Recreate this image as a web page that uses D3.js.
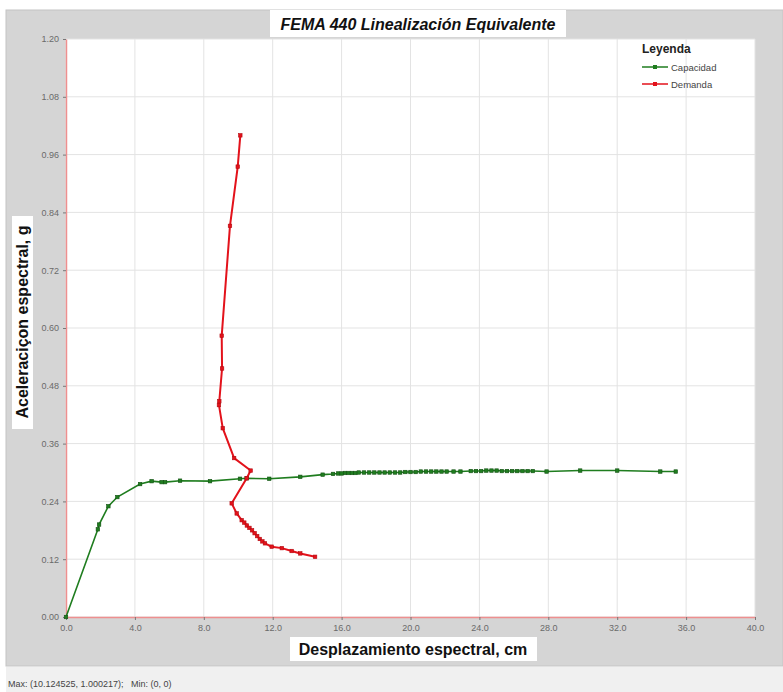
<!DOCTYPE html>
<html lang="es">

<head>
    <meta charset="UTF-8">
    <title>FEMA 440</title>
    <style>
        body {
            margin: 0;
            font-family: Arial, 'Liberation Sans', Helvetica, sans-serif;
            background-color: #ffffff;
        }

        .grid line {
            stroke: #e3e3e3;
        }

        .axisY text,
        .axisX text {
            fill: #6a6a6a;
            font-size: 9px;
        }

        .axisY .domain,
        .axisX .domain {
            stroke: #ee8f8f;
            stroke-width: 1.5;
        }

        .axisY .tick line,
        .axisX .tick line {
            stroke: #777;
        }
    </style>
</head>

<body>
    <div id='chart'></div>
</body>

</html>
<script src="https://cdnjs.cloudflare.com/ajax/libs/d3/7.8.5/d3.min.js"></script>
<script>
    // datos: curva de capacidad
    var capX = [0, 1.85, 1.92, 2.46, 2.98, 4.30, 4.97, 5.55, 5.75, 6.62, 8.36, 10.10, 10.49, 11.80, 13.60, 14.90,
        15.5, 15.8, 16.0, 16.2, 16.4, 16.6, 16.8, 17.0, 17.3, 17.6, 17.9, 18.2, 18.5, 18.8, 19.1, 19.4, 19.7,
        20.0, 20.3, 20.6, 20.9, 21.2, 21.5, 21.8, 22.1, 22.5, 22.9, 23.5, 23.8, 24.1, 24.4, 24.7, 25.0, 25.3,
        25.6, 25.9, 26.2, 26.5, 26.8, 27.1, 27.9, 29.85, 32.0, 34.5, 35.4];
    var capY = [0, 0.182, 0.192, 0.230, 0.249, 0.276, 0.282, 0.280, 0.280, 0.283, 0.282, 0.287, 0.288, 0.287, 0.291, 0.2955,
        0.297, 0.298, 0.298, 0.299, 0.299, 0.299, 0.299, 0.300, 0.300, 0.300, 0.300, 0.300, 0.300, 0.300, 0.300, 0.300, 0.301,
        0.301, 0.301, 0.302, 0.302, 0.302, 0.302, 0.302, 0.302, 0.302, 0.302, 0.303, 0.303, 0.303, 0.304, 0.304, 0.304, 0.303,
        0.303, 0.303, 0.303, 0.303, 0.303, 0.303, 0.302, 0.304, 0.304, 0.302, 0.302];

    // datos: curva de demanda
    var demX = [10.12, 9.97, 9.52, 9.04, 9.06, 8.90, 8.88, 9.10, 9.76, 10.72, 10.49, 9.62, 9.91, 10.20, 10.35, 10.50,
        10.65, 10.80, 10.95, 11.10, 11.25, 11.40, 11.55, 11.94, 12.53, 13.10, 13.60, 14.46];
    var demY = [1.000, 0.935, 0.812, 0.584, 0.516, 0.448, 0.440, 0.392, 0.330, 0.304, 0.288, 0.236, 0.215, 0.201, 0.196, 0.190,
        0.185, 0.180, 0.174, 0.168, 0.162, 0.157, 0.153, 0.146, 0.143, 0.137, 0.132, 0.125];

    // ticks
    var xTicks = [0, 4, 8, 12, 16, 20, 24, 28, 32, 36, 40];
    var yTicks = [0, 0.12, 0.24, 0.36, 0.48, 0.60, 0.72, 0.84, 0.96, 1.08, 1.20];

    var seriesNames = ['Capacidad', 'Demanda'];
    var seriesColors = ['#1f7d1f', '#e3121b'];

    var W = 783, H = 692;
    var plot = { left: 66, right: 755, top: 39, bottom: 617 };

    function ChartInit() {
        var svg = d3.select('#chart').append('svg')
            .attr('width', W)
            .attr('height', H);

        // fondo gris del panel y barra de estado
        svg.append('rect').attr('x', 6).attr('y', 10).attr('width', W - 6).attr('height', 656)
            .attr('fill', '#d5d5d5').attr('stroke', '#c4c4c4');
        svg.append('rect').attr('x', 6).attr('y', 667).attr('width', W - 6).attr('height', H - 667)
            .attr('fill', '#f0f0f0');
        svg.append('text')
            .attr('x', 8).attr('y', 687)
            .attr('font-size', 9).attr('fill', '#444')
            .attr('xml:space', 'preserve')
            .text('Max: (10.124525, 1.000217);   Min: (0, 0)');

        var xScale = d3.scaleLinear().domain([0, 40]).range([plot.left, plot.right]);
        var yScale = d3.scaleLinear().domain([0, 1.2]).range([plot.bottom, plot.top]);

        // área del gráfico
        svg.append('rect')
            .attr('x', plot.left).attr('y', plot.top)
            .attr('width', plot.right - plot.left).attr('height', plot.bottom - plot.top)
            .attr('fill', '#fff');

        // grilla
        svg.append('g').attr('class', 'grid')
            .selectAll('line.gx').data(xTicks).enter().append('line')
            .attr('x1', function (d) { return xScale(d); })
            .attr('x2', function (d) { return xScale(d); })
            .attr('y1', plot.top).attr('y2', plot.bottom);
        svg.append('g').attr('class', 'grid')
            .selectAll('line.gy').data(yTicks).enter().append('line')
            .attr('x1', plot.left).attr('x2', plot.right)
            .attr('y1', function (d) { return yScale(d); })
            .attr('y2', function (d) { return yScale(d); });

        // ejes
        svg.append('g')
            .attr('class', 'axisX')
            .attr('transform', 'translate(0,' + plot.bottom + ')')
            .call(d3.axisBottom(xScale).tickValues(xTicks).tickFormat(d3.format('.1f')).tickSize(3).tickSizeOuter(0).tickPadding(5));
        svg.append('g')
            .attr('class', 'axisY')
            .attr('transform', 'translate(' + plot.left + ',0)')
            .call(d3.axisLeft(yScale).tickValues(yTicks).tickFormat(d3.format('.2f')).tickSize(3).tickSizeOuter(0).tickPadding(4));

        // series
        var series = [
            d3.zip(capX, capY),
            d3.zip(demX, demY)
        ];
        var line = d3.line()
            .x(function (d) { return xScale(d[0]); })
            .y(function (d) { return yScale(d[1]); });

        series.forEach(function (pts, i) {
            svg.append('path')
                .datum(pts)
                .attr('fill', 'none')
                .attr('stroke', seriesColors[i])
                .attr('stroke-width', i === 0 ? 1.6 : 2)
                .attr('d', line);
            svg.append('g').selectAll('rect').data(pts).enter().append('rect')
                .attr('x', function (d) { return xScale(d[0]) - 1.75; })
                .attr('y', function (d) { return yScale(d[1]) - 1.75; })
                .attr('width', 3.5).attr('height', 3.5)
                .attr('fill', seriesColors[i])
                .attr('stroke', i === 0 ? '#145214' : '#b30c12')
                .attr('stroke-width', 0.6);
        });

        // titulo
        svg.append('rect').attr('x', 270).attr('y', 10).attr('width', 296).attr('height', 27).attr('fill', '#fff');
        svg.append('text')
            .attr('x', 418).attr('y', 30)
            .attr('text-anchor', 'middle')
            .attr('font-size', 16).attr('font-weight', 'bold').attr('font-style', 'italic')
            .attr('fill', '#111')
            .text('FEMA 440 Linealización Equivalente');

        // titulo eje x
        svg.append('rect').attr('x', 290).attr('y', 637).attr('width', 247).attr('height', 24).attr('fill', '#fff');
        svg.append('text')
            .attr('x', 413).attr('y', 655)
            .attr('text-anchor', 'middle')
            .attr('font-size', 16).attr('font-weight', 'bold')
            .attr('fill', '#111')
            .text('Desplazamiento espectral, cm');

        // titulo eje y
        svg.append('rect').attr('x', 12).attr('y', 216).attr('width', 21).attr('height', 213).attr('fill', '#fff');
        svg.append('text')
            .attr('transform', 'translate(28,322) rotate(-90)')
            .attr('text-anchor', 'middle')
            .attr('font-size', 16).attr('font-weight', 'bold')
            .attr('fill', '#111')
            .text('Aceleraciçon espectral, g');

        // leyenda
        var lg = svg.append('g').attr('transform', 'translate(642,53)');
        lg.append('text').attr('x', 0).attr('y', 0)
            .attr('font-size', 12).attr('font-weight', 'bold').attr('fill', '#222')
            .text('Leyenda');
        seriesNames.forEach(function (name, i) {
            var yy = 18 + i * 17;
            lg.append('line').attr('x1', 0).attr('x2', 26).attr('y1', yy - 4).attr('y2', yy - 4)
                .attr('stroke', seriesColors[i]).attr('stroke-width', 1.5);
            lg.append('rect').attr('x', 11).attr('y', yy - 6).attr('width', 4).attr('height', 4)
                .attr('fill', seriesColors[i]);
            lg.append('text').attr('x', 29).attr('y', yy)
                .attr('font-size', 9.5).attr('fill', '#444')
                .text(name);
        });
    }
    ChartInit();
</script>
